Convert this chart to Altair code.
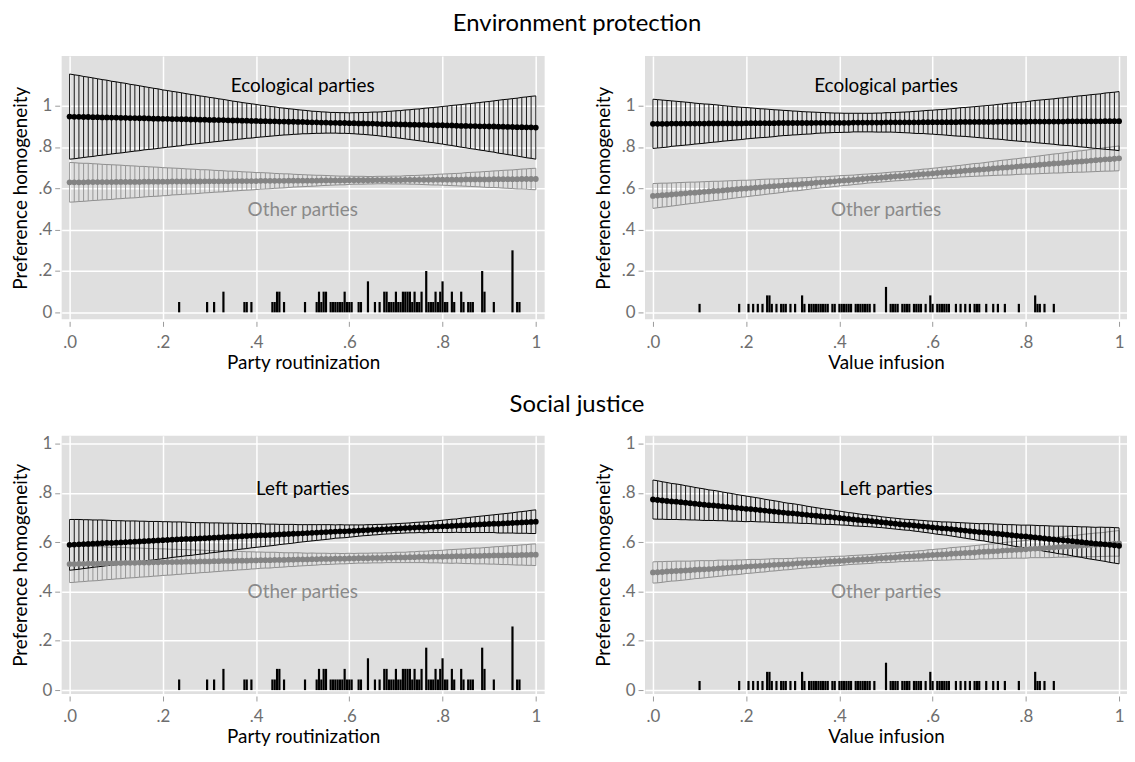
import altair as alt
import pandas as pd

# ---------------- data ----------------
X = [0.0, 0.01, 0.02, 0.03, 0.04, 0.05, 0.06, 0.07, 0.08, 0.09,
     0.1, 0.11, 0.12, 0.13, 0.14, 0.15, 0.16, 0.17, 0.18, 0.19,
     0.2, 0.21, 0.22, 0.23, 0.24, 0.25, 0.26, 0.27, 0.28, 0.29,
     0.3, 0.31, 0.32, 0.33, 0.34, 0.35, 0.36, 0.37, 0.38, 0.39,
     0.4, 0.41, 0.42, 0.43, 0.44, 0.45, 0.46, 0.47, 0.48, 0.49,
     0.5, 0.51, 0.52, 0.53, 0.54, 0.55, 0.56, 0.57, 0.58, 0.59,
     0.6, 0.61, 0.62, 0.63, 0.64, 0.65, 0.66, 0.67, 0.68, 0.69,
     0.7, 0.71, 0.72, 0.73, 0.74, 0.75, 0.76, 0.77, 0.78, 0.79,
     0.8, 0.81, 0.82, 0.83, 0.84, 0.85, 0.86, 0.87, 0.88, 0.89,
     0.9, 0.91, 0.92, 0.93, 0.94, 0.95, 0.96, 0.97, 0.98, 0.99, 1.0]

# Environment protection / party routinization
ENV_ROUT_ECO_MEAN = [.947,.946,.946,.945,.945,.944,.944,.943,.943,.942,
                     .942,.941,.941,.940,.940,.939,.939,.938,.937,.937,
                     .936,.936,.935,.935,.934,.934,.933,.933,.932,.932,
                     .931,.931,.930,.930,.929,.928,.928,.927,.927,.926,
                     .926,.925,.925,.924,.924,.923,.923,.922,.922,.921,
                     .921,.920,.919,.919,.918,.918,.917,.917,.916,.916,
                     .915,.915,.914,.914,.913,.913,.912,.911,.911,.910,
                     .910,.909,.909,.908,.908,.907,.907,.906,.906,.905,
                     .905,.904,.904,.903,.902,.902,.901,.901,.900,.900,
                     .899,.899,.898,.898,.897,.897,.896,.896,.895,.895,.894]
ENV_ROUT_ECO_HW = [.206,.203,.200,.196,.193,.190,.186,.183,.180,.176,
                   .173,.170,.167,.163,.160,.157,.153,.150,.147,.144,
                   .140,.137,.134,.131,.128,.124,.121,.118,.115,.112,
                   .109,.106,.103,.100,.097,.094,.091,.088,.085,.083,
                   .080,.077,.075,.072,.070,.067,.065,.063,.061,.059,
                   .057,.056,.054,.053,.052,.051,.050,.050,.050,.050,
                   .050,.051,.052,.053,.054,.056,.057,.059,.061,.063,
                   .065,.067,.070,.072,.075,.077,.080,.083,.085,.088,
                   .091,.094,.097,.100,.103,.106,.109,.112,.115,.118,
                   .121,.124,.128,.131,.134,.137,.140,.144,.147,.150,.153]
ENV_ROUT_OTH_MEAN = [.629,.629,.629,.629,.630,.630,.630,.630,.630,.630,
                     .631,.631,.631,.631,.631,.631,.632,.632,.632,.632,
                     .632,.632,.633,.633,.633,.633,.633,.633,.633,.634,
                     .634,.634,.634,.634,.634,.635,.635,.635,.635,.635,
                     .635,.636,.636,.636,.636,.636,.636,.637,.637,.637,
                     .637,.637,.637,.637,.638,.638,.638,.638,.638,.638,
                     .639,.639,.639,.639,.639,.639,.640,.640,.640,.640,
                     .640,.640,.641,.641,.641,.641,.641,.641,.641,.642,
                     .642,.642,.642,.642,.642,.643,.643,.643,.643,.643,
                     .643,.644,.644,.644,.644,.644,.644,.645,.645,.645,.645]
ENV_ROUT_OTH_HW = [.096,.095,.093,.092,.091,.089,.088,.086,.085,.084,
                   .082,.081,.079,.078,.077,.075,.074,.072,.071,.070,
                   .068,.067,.065,.064,.063,.061,.060,.059,.057,.056,
                   .055,.053,.052,.051,.049,.048,.047,.045,.044,.043,
                   .041,.040,.039,.038,.036,.035,.034,.033,.031,.030,
                   .029,.028,.027,.026,.025,.024,.023,.022,.021,.021,
                   .020,.019,.019,.019,.018,.018,.018,.018,.018,.019,
                   .019,.019,.020,.021,.021,.022,.023,.024,.025,.026,
                   .027,.028,.029,.030,.031,.033,.034,.035,.036,.038,
                   .039,.040,.041,.043,.044,.045,.047,.048,.049,.051,.052]

# Environment protection / value infusion
ENV_VAL_ECO_MEAN = [.912,.912,.912,.912,.913,.913,.913,.913,.913,.913,
                    .913,.913,.914,.914,.914,.914,.914,.914,.914,.914,
                    .915,.915,.915,.915,.915,.915,.915,.916,.916,.916,
                    .916,.916,.916,.916,.916,.917,.917,.917,.917,.917,
                    .917,.917,.917,.918,.918,.918,.918,.918,.918,.918,
                    .919,.919,.919,.919,.919,.919,.919,.919,.920,.920,
                    .920,.920,.920,.920,.920,.920,.921,.921,.921,.921,
                    .921,.921,.921,.921,.922,.922,.922,.922,.922,.922,
                    .922,.923,.923,.923,.923,.923,.923,.923,.923,.924,
                    .924,.924,.924,.924,.924,.924,.924,.925,.925,.925,.925]
ENV_VAL_ECO_HW = [.119,.117,.115,.113,.110,.108,.106,.104,.102,.099,
                  .097,.095,.093,.091,.089,.086,.084,.082,.080,.078,
                  .076,.074,.072,.070,.069,.067,.065,.063,.061,.060,
                  .058,.057,.055,.054,.053,.051,.050,.049,.048,.047,
                  .047,.046,.046,.045,.045,.045,.045,.045,.046,.046,
                  .047,.047,.048,.049,.050,.051,.053,.054,.055,.057,
                  .058,.060,.061,.063,.065,.067,.069,.070,.072,.074,
                  .076,.078,.080,.082,.084,.086,.089,.091,.093,.095,
                  .097,.099,.102,.104,.106,.108,.110,.113,.115,.117,
                  .119,.122,.124,.126,.129,.131,.133,.136,.138,.140,.143]
ENV_VAL_OTH_MEAN = [.563,.565,.567,.568,.570,.572,.574,.576,.578,.579,
                    .581,.583,.585,.587,.588,.590,.592,.594,.596,.598,
                    .599,.601,.603,.605,.607,.609,.610,.612,.614,.616,
                    .618,.619,.621,.623,.625,.627,.629,.630,.632,.634,
                    .636,.638,.639,.641,.643,.645,.647,.649,.650,.652,
                    .654,.656,.658,.659,.661,.663,.665,.667,.669,.670,
                    .672,.674,.676,.678,.679,.681,.683,.685,.687,.689,
                    .690,.692,.694,.696,.698,.700,.701,.703,.705,.707,
                    .709,.710,.712,.714,.716,.718,.720,.721,.723,.725,
                    .727,.729,.730,.732,.734,.736,.738,.740,.741,.743,.745]
ENV_VAL_OTH_HW = [.060,.059,.058,.057,.056,.055,.054,.053,.052,.051,
                  .050,.049,.048,.047,.046,.045,.044,.043,.042,.041,
                  .040,.039,.038,.038,.037,.036,.035,.034,.033,.032,
                  .031,.031,.030,.029,.028,.028,.027,.026,.026,.025,
                  .025,.024,.024,.023,.023,.023,.022,.022,.022,.022,
                  .022,.022,.022,.022,.022,.023,.023,.023,.024,.024,
                  .025,.025,.026,.026,.027,.028,.028,.029,.030,.031,
                  .031,.032,.033,.034,.035,.036,.037,.038,.038,.039,
                  .040,.041,.042,.043,.044,.045,.046,.047,.048,.049,
                  .050,.051,.052,.053,.054,.055,.056,.057,.058,.059,.060]

# Social justice / party routinization
SOC_ROUT_LEFT_MEAN = [.589,.590,.591,.592,.593,.594,.595,.596,.597,.597,
                      .598,.599,.600,.601,.602,.603,.604,.605,.606,.607,
                      .608,.609,.610,.611,.612,.613,.613,.614,.615,.616,
                      .617,.618,.619,.620,.621,.622,.623,.624,.625,.626,
                      .627,.628,.628,.629,.630,.631,.632,.633,.634,.635,
                      .636,.637,.638,.639,.640,.641,.642,.643,.644,.644,
                      .645,.646,.647,.648,.649,.650,.651,.652,.653,.654,
                      .655,.656,.657,.658,.659,.660,.660,.661,.662,.663,
                      .664,.665,.666,.667,.668,.669,.670,.671,.672,.673,
                      .674,.675,.675,.676,.677,.678,.679,.680,.681,.682,.683]
SOC_ROUT_LEFT_HW = [.103,.102,.101,.099,.098,.096,.095,.094,.092,.091,
                    .089,.088,.086,.085,.084,.082,.081,.079,.078,.077,
                    .075,.074,.072,.071,.070,.068,.067,.065,.064,.063,
                    .061,.060,.059,.057,.056,.055,.053,.052,.051,.049,
                    .048,.047,.045,.044,.043,.041,.040,.039,.038,.036,
                    .035,.034,.033,.032,.031,.030,.029,.027,.027,.026,
                    .025,.024,.023,.022,.022,.021,.021,.020,.020,.020,
                    .020,.020,.020,.020,.021,.021,.022,.022,.023,.024,
                    .025,.026,.027,.027,.029,.030,.031,.032,.033,.034,
                    .035,.036,.038,.039,.040,.041,.043,.044,.045,.047,.048]
SOC_ROUT_OTH_MEAN = [.511,.511,.512,.512,.513,.513,.513,.514,.514,.514,
                     .515,.515,.516,.516,.516,.517,.517,.517,.518,.518,
                     .519,.519,.519,.520,.520,.521,.521,.521,.522,.522,
                     .522,.523,.523,.524,.524,.524,.525,.525,.525,.526,
                     .526,.527,.527,.527,.528,.528,.528,.529,.529,.530,
                     .530,.530,.531,.531,.532,.532,.532,.533,.533,.533,
                     .534,.534,.535,.535,.535,.536,.536,.536,.537,.537,
                     .538,.538,.538,.539,.539,.540,.540,.540,.541,.541,
                     .541,.542,.542,.543,.543,.543,.544,.544,.544,.545,
                     .545,.546,.546,.546,.547,.547,.547,.548,.548,.549,.549]
SOC_ROUT_OTH_HW = [.075,.074,.073,.072,.071,.070,.069,.068,.066,.065,
                   .064,.063,.062,.061,.060,.059,.058,.057,.056,.055,
                   .054,.053,.052,.051,.050,.049,.048,.047,.046,.045,
                   .044,.043,.042,.041,.040,.039,.038,.037,.036,.035,
                   .034,.033,.032,.032,.031,.030,.029,.028,.028,.027,
                   .026,.025,.025,.024,.023,.023,.022,.022,.021,.021,
                   .021,.020,.020,.020,.020,.020,.020,.020,.020,.020,
                   .021,.021,.021,.022,.022,.023,.023,.024,.025,.025,
                   .026,.027,.028,.028,.029,.030,.031,.032,.032,.033,
                   .034,.035,.036,.037,.038,.039,.040,.041,.042,.043,.044]

# Social justice / value infusion
SOC_VAL_LEFT_MEAN = [.773,.771,.769,.767,.765,.764,.762,.760,.758,.756,
                     .754,.752,.750,.749,.747,.745,.743,.741,.739,.737,
                     .735,.734,.732,.730,.728,.726,.724,.722,.720,.718,
                     .717,.715,.713,.711,.709,.707,.705,.703,.702,.700,
                     .698,.696,.694,.692,.690,.688,.687,.685,.683,.681,
                     .679,.677,.675,.673,.671,.670,.668,.666,.664,.662,
                     .660,.658,.656,.655,.653,.651,.649,.647,.645,.643,
                     .641,.640,.638,.636,.634,.632,.630,.628,.626,.624,
                     .623,.621,.619,.617,.615,.613,.611,.609,.608,.606,
                     .604,.602,.600,.598,.596,.594,.593,.591,.589,.587,.585]
SOC_VAL_LEFT_HW = [.079,.078,.076,.075,.073,.072,.071,.069,.068,.066,
                   .065,.064,.062,.061,.060,.058,.057,.056,.054,.053,
                   .052,.050,.049,.048,.046,.045,.044,.043,.041,.040,
                   .039,.038,.037,.035,.034,.033,.032,.031,.030,.029,
                   .028,.027,.026,.026,.025,.024,.024,.023,.023,.022,
                   .022,.022,.022,.022,.022,.022,.023,.023,.024,.024,
                   .025,.026,.026,.027,.028,.029,.030,.031,.032,.033,
                   .034,.035,.037,.038,.039,.040,.041,.043,.044,.045,
                   .046,.048,.049,.050,.052,.053,.054,.056,.057,.058,
                   .060,.061,.062,.064,.065,.066,.068,.069,.071,.072,.073]
SOC_VAL_OTH_MEAN = [.477,.478,.479,.481,.482,.483,.484,.485,.486,.488,
                    .489,.490,.491,.492,.494,.495,.496,.497,.498,.499,
                    .501,.502,.503,.504,.505,.507,.508,.509,.510,.511,
                    .512,.514,.515,.516,.517,.518,.519,.521,.522,.523,
                    .524,.525,.527,.528,.529,.530,.531,.532,.534,.535,
                    .536,.537,.538,.540,.541,.542,.543,.544,.545,.547,
                    .548,.549,.550,.551,.553,.554,.555,.556,.557,.558,
                    .560,.561,.562,.563,.564,.566,.567,.568,.569,.570,
                    .571,.573,.574,.575,.576,.577,.578,.580,.581,.582,
                    .583,.584,.586,.587,.588,.589,.590,.591,.593,.594,.595]
SOC_VAL_OTH_HW = [.043,.043,.042,.041,.040,.040,.039,.038,.037,.036,
                  .036,.035,.034,.033,.033,.032,.031,.030,.030,.029,
                  .028,.028,.027,.026,.026,.025,.025,.024,.023,.023,
                  .022,.022,.021,.021,.020,.020,.020,.019,.019,.019,
                  .019,.018,.018,.018,.018,.018,.018,.018,.018,.018,
                  .019,.019,.019,.019,.020,.020,.020,.021,.021,.022,
                  .022,.023,.023,.024,.025,.025,.026,.026,.027,.028,
                  .028,.029,.030,.030,.031,.032,.033,.033,.034,.035,
                  .036,.036,.037,.038,.039,.040,.040,.041,.042,.043,
                  .043,.044,.045,.046,.047,.048,.048,.049,.050,.051,.052]

# frequency spikes (number of parties per bin) along each x variable
ROUT_POS = [.235,.295,.31,.33,.375,.38,.39,.435,.44,.445,.45,.46,.505,.53,.535,.54,.545,.55,
            .56,.565,.57,.575,.58,.585,.59,.595,.6,.605,.62,.625,.64,.655,.665,.675,.68,.685,
            .69,.695,.7,.705,.71,.715,.72,.725,.73,.735,.74,.745,.75,.755,.765,.77,.775,.78,
            .785,.79,.795,.8,.805,.81,.82,.825,.84,.845,.855,.86,.865,.885,.89,.91,.95,.96,.965]
ROUT_CNT = [1,1,1,2,1,1,1,1,1,2, 2,1,1,1,2,1,2,2,1,1, 1,1,1,1,2,1,1,1,1,1,
            3,1,1,2,2,1,1,1,2,1, 1,2,2,2,2,1,2,1,1,2, 4,1,1,1,2,1,2,3,1,1,
            2,1,2,1,1,1,1,4,2,1, 6,1,1]
VAL_POS = [.1,.185,.205,.215,.225,.235,.245,.25,.255,.265,.275,.28,.285,.295,.305,.32,.325,
           .335,.34,.345,.35,.355,.36,.365,.37,.375,.385,.39,.4,.405,.41,.415,.42,.425,.435,
           .44,.445,.45,.455,.46,.465,.475,.5,.51,.515,.52,.525,.535,.54,.545,.55,.56,.565,
           .57,.575,.585,.595,.6,.61,.615,.62,.625,.63,.635,.65,.66,.67,.68,.69,.695,.7,
           .715,.73,.74,.755,.785,.82,.825,.83,.84,.86]
VAL_CNT = [1,1,1,1,1,1,2,2,1,1, 1,1,1,1,1,2,1,1,1,1, 1,1,1,1,1,1,1,1,1,1,
           1,1,1,1,1,1,1,1,1,1, 1,1,3,1,1,1,1,1,1,1, 1,1,1,1,1,1,2,1,1,1,
           1,1,1,1,1,1,1,1,1,1, 1,1,1,1,1,1,2,1,1,1, 1]

ROW_TITLES = ["Environment protection", "Social justice"]
X_TITLES = ["Party routinization", "Value infusion"]
Y_TITLE = "Preference homogeneity"
GROUP_LABELS = ["Ecological parties", "Left parties"]
OTHER_LABEL = "Other parties"
TICKS = [0, 0.2, 0.4, 0.6, 0.8, 1]

# ---------------- styling ----------------
FONT = "Lato"
BLACK = "#000000"
GREY_BAND = "#8e8e8e"
GREY_LINE = "#848484"
GREY_TEXT = "#8a8a8a"
BG = "#dfdfdf"

X_LABEL_EXPR = "datum.value == 1 ? '1' : replace(format(datum.value, '.1f'), '0.', '.')"
Y_LABEL_EXPR = ("datum.value == 0 ? '0' : (datum.value == 1 ? '1' : "
                "replace(format(datum.value, '.1f'), '0.', '.'))")

AX = dict(values=TICKS, grid=True, gridColor="white", gridWidth=1.5, domain=False,
          ticks=True, tickColor="#9a9a9a", tickSize=5, tickWidth=1, offset=2,
          labelColor="#6e6e6e", labelFont=FONT, labelFontSize=17, labelFlush=False,
          labelOverlap=False, titleFont=FONT, titleFontSize=19, titleFontWeight="normal",
          titleColor="black")


def band_frame(mean, hw):
    return pd.DataFrame(list(zip(X, mean, hw)), columns=["x", "m", "h"])


def panel(xtitle, xdom, ydom, width, height, black, grey, rug_pos, rug_cnt, unit,
          label, lab_y, oth_y):
    xs = alt.Scale(domain=xdom, nice=False, zero=False)
    ys = alt.Scale(domain=ydom, nice=False, zero=False)
    xax = alt.Axis(title=xtitle, labelExpr=X_LABEL_EXPR, labelPadding=8, titlePadding=3, **AX)
    yax = alt.Axis(title=Y_TITLE, labelExpr=Y_LABEL_EXPR, labelPadding=3, titlePadding=8, **AX)

    def ex(f):
        return alt.X(f"{f}:Q", scale=xs, axis=xax)

    def ey(f):
        return alt.Y(f"{f}:Q", scale=ys, axis=yax)

    layers = []
    for (m, h), col in [(grey, GREY_BAND), (black, BLACK)]:
        base = alt.Chart(band_frame(m, h)).transform_calculate(
            lo="datum.m - datum.h", hi="datum.m + datum.h")
        layers += [
            base.mark_rule(color=col, strokeWidth=0.9).encode(x=ex("x"), y=ey("lo"), y2="hi:Q"),
            base.mark_line(color=col, strokeWidth=1).encode(x=ex("x"), y=ey("lo")),
            base.mark_line(color=col, strokeWidth=1).encode(x=ex("x"), y=ey("hi")),
        ]
    for (m, h), col in [(grey, GREY_LINE), (black, BLACK)]:
        base = alt.Chart(band_frame(m, h))
        layers += [
            base.mark_line(color=col, strokeWidth=3).encode(x=ex("x"), y=ey("m")),
            base.mark_circle(color=col, size=34, opacity=1).encode(x=ex("x"), y=ey("m")),
        ]
    rug = alt.Chart(pd.DataFrame({"x": rug_pos, "n": rug_cnt})).transform_calculate(
        b="0", t=f"datum.n * {unit}")
    layers.append(rug.mark_rule(color=BLACK, strokeWidth=2.2).encode(
        x=ex("x"), y=ey("b"), y2="t:Q"))
    lab1 = pd.DataFrame({"x": [0.5], "y": [lab_y], "t": [label]})
    lab2 = pd.DataFrame({"x": [0.5], "y": [oth_y], "t": [OTHER_LABEL]})
    layers.append(alt.Chart(lab1).mark_text(font=FONT, fontSize=19, color=BLACK).encode(
        x=ex("x"), y=ey("y"), text="t:N"))
    layers.append(alt.Chart(lab2).mark_text(font=FONT, fontSize=19, color=GREY_TEXT).encode(
        x=ex("x"), y=ey("y"), text="t:N"))
    return alt.layer(*layers).properties(width=width, height=height)


XDOM_L = [-0.017, 1.019]
XDOM_R = [-0.017, 1.017]
YDOM_TOP = [-0.034, 1.240]
YDOM_BOT = [-0.016, 1.032]

tl = panel(X_TITLES[0], XDOM_L, YDOM_TOP, 486, 265,
           (ENV_ROUT_ECO_MEAN, ENV_ROUT_ECO_HW), (ENV_ROUT_OTH_MEAN, ENV_ROUT_OTH_HW),
           ROUT_POS, ROUT_CNT, 0.05, GROUP_LABELS[0], 1.096, 0.496)
tr = panel(X_TITLES[1], XDOM_R, YDOM_TOP, 485, 265,
           (ENV_VAL_ECO_MEAN, ENV_VAL_ECO_HW), (ENV_VAL_OTH_MEAN, ENV_VAL_OTH_HW),
           VAL_POS, VAL_CNT, 0.041, GROUP_LABELS[0], 1.096, 0.496)
bl = panel(X_TITLES[0], XDOM_L, YDOM_BOT, 486, 260,
           (SOC_ROUT_LEFT_MEAN, SOC_ROUT_LEFT_HW), (SOC_ROUT_OTH_MEAN, SOC_ROUT_OTH_HW),
           ROUT_POS, ROUT_CNT, 0.043, GROUP_LABELS[1], 0.814, 0.397)
br = panel(X_TITLES[1], XDOM_R, YDOM_BOT, 485, 260,
           (SOC_VAL_LEFT_MEAN, SOC_VAL_LEFT_HW), (SOC_VAL_OTH_MEAN, SOC_VAL_OTH_HW),
           VAL_POS, VAL_CNT, 0.037, GROUP_LABELS[1], 0.816, 0.399)


def row_title(text, offset):
    return alt.TitleParams(text=text, font=FONT, fontSize=24, fontWeight="normal",
                           color="black", anchor="middle", offset=offset, dx=8)


row1 = alt.hconcat(tl, tr, spacing=50).properties(title=row_title(ROW_TITLES[0], 20))
row2 = alt.hconcat(bl, br, spacing=50).properties(title=row_title(ROW_TITLES[1], 18))

chart = (
    alt.vconcat(row1, row2, spacing=20)
    .properties(padding={"left": 3, "top": 2, "right": 0, "bottom": 0}, background="white")
    .configure(font=FONT)
    .configure_view(fill=BG, strokeWidth=0)
)

chart.save("out.html", embed_options={"renderer": "svg", "actions": False})
